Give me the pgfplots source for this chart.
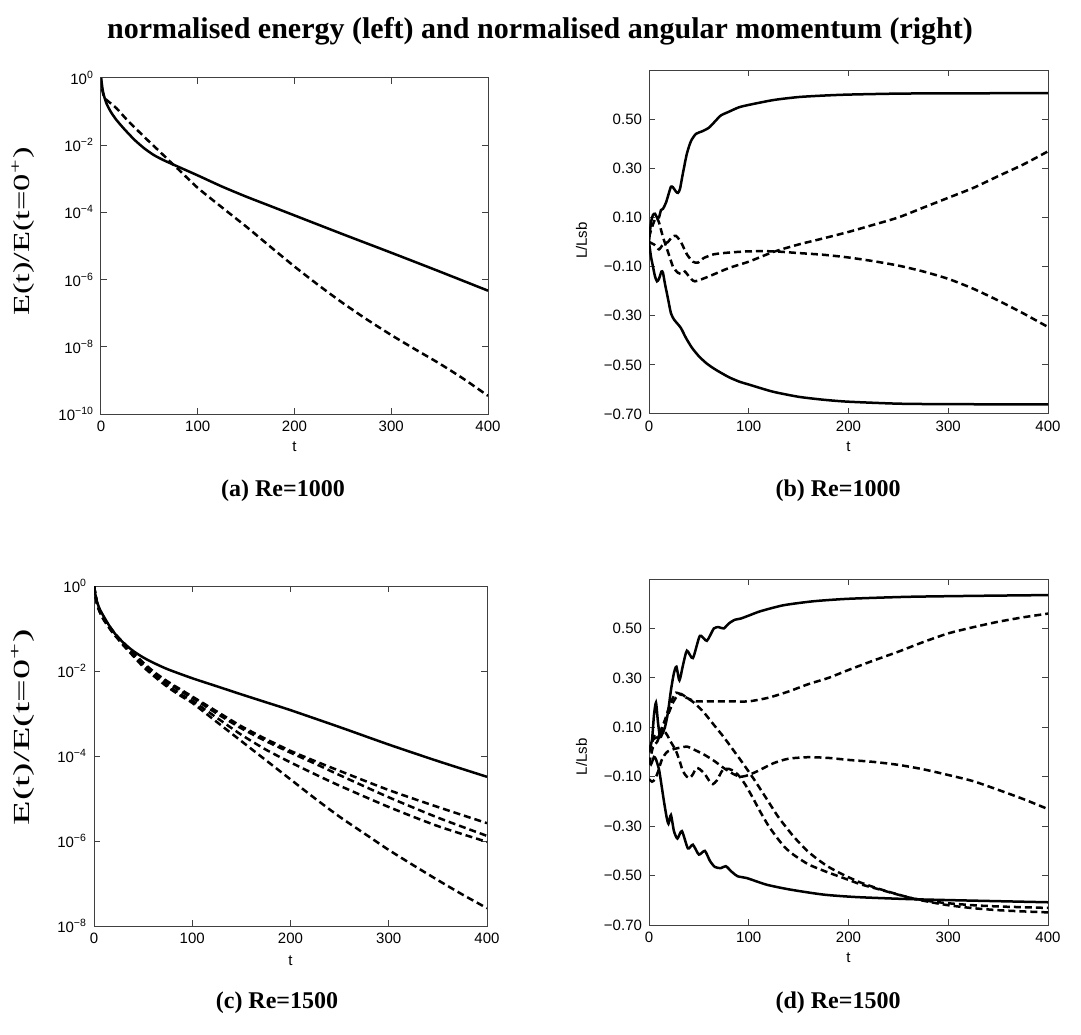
\documentclass[border=0pt]{standalone}
\usepackage{fontspec}
\setmainfont{Liberation Serif}
\setsansfont{Liberation Sans}
\usepackage{graphicx}
\usepackage{pgfplots}
\pgfplotsset{compat=1.18}

\pgfplotsset{
 mystyle/.style={
  scale only axis,
  anchor=south west,
  axis line style={line width=0.5pt, black!75},
  tick style={line width=0.5pt, black!75},
  major tick length=3pt,
  tick label style={font=\sffamily\fontsize{7.5}{8.5}\selectfont},
  label style={font=\sffamily\fontsize{7.5}{9}\selectfont},
  xmin=0, xmax=400,
  xtick={0,100,200,300,400},
  xticklabels={0,100,200,300,400},
 },
 linpanel/.style={
  ymin=-0.7, ymax=0.7,
  ytick={-0.7,-0.5,-0.3,-0.1,0.1,0.3,0.5},
  yticklabels={−0.70,−0.50,−0.30,−0.10,0.10,0.30,0.50},
 },
 solidc/.style={black, line width=1.25pt, smooth, tension=0.4, mark=none},
 dashc/.style={black, line width=1.25pt, dash pattern=on 3.5pt off 2pt, smooth, tension=0.4, mark=none},
}

\begin{document}
\begin{tikzpicture}
\path[use as bounding box] (0,0) rectangle (540.5pt,517pt);

\node[font=\bfseries\fontsize{15}{18}\selectfont] at (270pt,501.5pt) {normalised energy (left) and normalised angular momentum (right)};
\node[font=\bfseries\fontsize{12}{14}\selectfont] at (141.5pt,271.5pt) {(a) Re=1000};
\node[font=\bfseries\fontsize{12}{14}\selectfont] at (419pt,271.5pt) {(b) Re=1000};
\node[font=\bfseries\fontsize{12}{14}\selectfont] at (138.5pt,15.5pt) {(c) Re=1500};
\node[font=\bfseries\fontsize{12}{14}\selectfont] at (419pt,15.5pt) {(d) Re=1500};

% (a)
\begin{axis}[mystyle, at={(50.5pt,310pt)}, width=193.5pt, height=168pt,
  ymode=log, ymin=1e-10, ymax=1, yminorticks=false,
  ytick={1e-10,1e-8,1e-6,1e-4,1e-2,1},
  yticklabels={10\textsuperscript{−10},10\textsuperscript{−8},10\textsuperscript{−6},10\textsuperscript{−4},10\textsuperscript{−2},10\textsuperscript{0}},
  xlabel={t}, xlabel style={at={(axis description cs:0.5,-0.097)},anchor=center},
  ylabel={\rmfamily\scalebox{1.5}[1]{\fontsize{11.5}{12}\selectfont E(t)/E(t=0\textsuperscript{+})}},
  ylabel style={at={(axis description cs:-0.2016,0.543)},anchor=center},
]
\addplot[solidc] coordinates {
(0,1) (1,0.631) (2,0.398) (4,0.240) (6,0.166) (10,0.1) (16,0.0562) (25,0.0282)
(35,0.0141) (45,0.00794) (55,0.00501) (65,0.00355) (75,0.00263) (100,1.26e-3)
(125,5.89e-4) (150,2.95e-4) (175,1.55e-4) (200,8.13e-5) (250,2.24e-5)
(300,6.31e-6) (350,1.74e-6) (400,4.68e-7)};
\addplot[dashc] coordinates {
(0,1) (1,0.501) (3,0.282) (6,0.219) (16,0.126) (27,0.0562) (40,0.0240) (50,0.0126)
(60,0.00676) (70,0.00355) (80,0.00191) (100,5.37e-4) (125,1.41e-4) (150,3.80e-5)
(175,9.55e-6) (200,2.45e-6) (225,6.76e-7) (250,2.0e-7) (275,6.46e-8) (300,2.24e-8)
(325,8.32e-9) (350,3.16e-9) (375,1.10e-9) (400,3.47e-10)};
\end{axis}

% (b)
\begin{axis}[mystyle, linpanel, at={(324.5pt,310pt)}, width=199.5pt, height=172pt,
  xlabel={t}, xlabel style={at={(axis description cs:0.5,-0.095)},anchor=center},
  ylabel={L/Lsb}, ylabel style={at={(axis description cs:-0.169,0.504)},anchor=center},
]
\addplot[solidc] coordinates {
(0,0.0) (2,0.08) (4,0.11) (6,0.115) (8,0.10) (10,0.10) (12,0.13) (14,0.135) (17,0.16)
(20,0.2) (22,0.225) (24,0.223) (27,0.205) (29,0.2) (31,0.215) (34,0.28) (38,0.36)
(42,0.41) (47,0.44) (53,0.45) (60,0.465) (66,0.49) (72,0.515) (80,0.53) (90,0.548)
(100,0.558) (125,0.578) (150,0.59) (175,0.596) (200,0.6) (250,0.604) (300,0.605) (400,0.606)};
\addplot[solidc] coordinates {
(0,0.0) (2,-0.06) (4,-0.1) (6,-0.14) (8,-0.16) (10,-0.15) (12.5,-0.12) (14,-0.125)
(16,-0.17) (19,-0.23) (22,-0.29) (25,-0.315) (28,-0.33) (32,-0.35) (37,-0.39) (43,-0.43)
(50,-0.465) (58,-0.495) (67,-0.52) (80,-0.55) (91,-0.569) (100,-0.58) (124,-0.609)
(150,-0.63) (175,-0.642) (200,-0.65) (250,-0.658) (300,-0.66) (400,-0.661)};
\addplot[dashc] coordinates {
(0,0.02) (3,0.06) (7,0.1) (10,0.08) (14,0.02) (19,-0.04) (24,-0.1) (29,-0.125)
(33,-0.13) (36,-0.12) (40,-0.14) (46,-0.16) (60,-0.14) (80,-0.106) (100,-0.08)
(125,-0.04) (150,-0.01) (175,0.015) (200,0.041) (225,0.07) (250,0.10) (275,0.14)
(300,0.18) (325,0.22) (350,0.268) (375,0.315) (400,0.369)};
\addplot[dashc] coordinates {
(0,0.0) (5,-0.01) (10,-0.03) (14,-0.01) (19,0.0) (23,0.02) (27,0.025) (32,0.0)
(38,-0.05) (44,-0.08) (49,-0.084) (55,-0.065) (65,-0.05) (80,-0.043) (100,-0.038)
(125,-0.038) (150,-0.045) (175,-0.052) (200,-0.063) (225,-0.078) (250,-0.096)
(275,-0.12) (300,-0.15) (325,-0.19) (350,-0.238) (375,-0.29) (400,-0.346)};
\end{axis}

% (c)
\begin{axis}[mystyle, at={(47pt,54pt)}, width=196.5pt, height=170pt,
  ymode=log, ymin=1e-8, ymax=1, yminorticks=false,
  ytick={1e-8,1e-6,1e-4,1e-2,1},
  yticklabels={10\textsuperscript{−8},10\textsuperscript{−6},10\textsuperscript{−4},10\textsuperscript{−2},10\textsuperscript{0}},
  xlabel={t}, xlabel style={at={(axis description cs:0.5,-0.103)},anchor=center},
  ylabel={\rmfamily\scalebox{1.75}[1]{\fontsize{11.5}{12}\selectfont E(t)/E(t=0\textsuperscript{+})}},
  ylabel style={at={(axis description cs:-0.181,0.585)},anchor=center},
]
\addplot[solidc] coordinates {
(0,1) (1,0.708) (3,0.427) (6,0.282) (10,0.191) (16,0.112) (23,0.0676) (32,0.0417)
(40,0.0295) (50,0.0209) (60,0.0158) (75,0.0110) (100,6.76e-3) (125,4.37e-3)
(150,2.82e-3) (175,1.84e-3) (200,1.20e-3) (250,4.79e-4) (300,1.86e-4) (350,7.59e-5) (400,3.24e-5)};
\addplot[dashc] coordinates {
(0,1) (3,0.398) (6,0.251) (10,0.166) (20,0.0794) (30,0.0468) (40,0.0269) (50,0.0158)
(60,0.01) (70,6.76e-3) (80,4.79e-3) (90,3.47e-3) (100,2.51e-3) (125,1.12e-3)
(150,5.01e-4) (175,2.51e-4) (200,1.32e-4) (225,7.59e-5) (250,4.47e-5) (300,1.58e-5)
(350,6.31e-6) (400,2.63e-6)};
\addplot[dashc] coordinates {
(0,1) (3,0.380) (6,0.240) (10,0.158) (20,0.0741) (30,0.0427) (40,0.0251) (50,0.0148)
(60,9.33e-3) (70,6.31e-3) (80,4.47e-3) (90,3.16e-3) (100,2.34e-3) (125,1.0e-3)
(150,4.47e-4) (175,2.24e-4) (200,1.20e-4) (225,6.61e-5) (250,3.55e-5) (300,1.07e-5)
(350,3.55e-6) (400,1.32e-6)};
\addplot[dashc] coordinates {
(0,1) (3,0.417) (6,0.263) (10,0.174) (20,0.0832) (30,0.0437) (40,0.0240) (50,0.0138)
(60,8.51e-3) (70,5.62e-3) (80,3.80e-3) (90,2.69e-3) (100,2.0e-3) (125,7.94e-4)
(150,3.16e-4) (175,1.41e-4) (200,7.08e-5) (225,3.72e-5) (250,2.0e-5) (300,6.31e-6)
(350,2.24e-6) (400,9.55e-7)};
\addplot[dashc] coordinates {
(0,1) (3,0.389) (6,0.245) (10,0.162) (20,0.0759) (30,0.0398) (40,0.0224) (50,0.0126)
(60,7.94e-3) (70,5.13e-3) (80,3.47e-3) (90,2.45e-3) (100,1.78e-3) (125,6.31e-4)
(150,2.24e-4) (175,7.94e-5) (200,2.82e-5) (225,1.0e-5) (250,3.72e-6) (275,1.51e-6)
(300,6.17e-7) (325,2.69e-7) (350,1.20e-7) (375,5.50e-8) (400,2.63e-8)};
\end{axis}

% (d)
\begin{axis}[mystyle, linpanel, at={(324.5pt,54.5pt)}, width=199.5pt, height=173pt,
  xlabel={t}, xlabel style={at={(axis description cs:0.5,-0.095)},anchor=center},
  ylabel={L/Lsb}, ylabel style={at={(axis description cs:-0.169,0.486)},anchor=center},
]
\addplot[solidc] coordinates {
(0,0.0) (3,0.05) (5,0.15) (7,0.2) (9,0.12) (11,0.06) (13,0.07) (16,0.1) (19,0.16)
(22,0.25) (25,0.32) (27.5,0.345) (30.5,0.29) (34,0.35) (38,0.41) (44,0.38) (51,0.47)
(58,0.45) (65,0.5) (70,0.505) (75,0.5) (80,0.52) (86,0.535) (92,0.54) (100,0.552)
(112,0.57) (135,0.594) (165,0.61) (200,0.62) (260,0.628) (330,0.632) (400,0.635)};
\addplot[solidc] coordinates {
(0,-0.03) (2,-0.05) (5,-0.02) (7,-0.03) (10,-0.07) (12,-0.12) (15,-0.2) (17.5,-0.26)
(19.5,-0.29) (22,-0.255) (25,-0.32) (28.5,-0.35) (33,-0.32) (39,-0.39) (44,-0.375)
(50,-0.415) (56,-0.40) (61,-0.44) (66,-0.465) (72,-0.47) (77,-0.462) (83,-0.485)
(89,-0.503) (98,-0.51) (118,-0.537) (142,-0.557) (175,-0.577) (208,-0.587)
(259,-0.595) (309,-0.60) (400,-0.608)};
\addplot[dashc] coordinates {
(0,0.0) (4,0.05) (8,0.06) (12,0.09) (16,0.13) (20,0.18) (24,0.22) (27,0.24) (31,0.235)
(35,0.225) (40,0.215) (47,0.205) (60,0.205) (80,0.205) (100,0.205) (120,0.22)
(140,0.245) (160,0.275) (180,0.3) (200,0.332) (225,0.37) (250,0.406) (275,0.445)
(300,0.48) (325,0.505) (350,0.527) (375,0.545) (400,0.56)};
\addplot[dashc] coordinates {
(0,-0.05) (4,0.02) (8,0.04) (12,0.08) (16,0.12) (20,0.16) (24,0.2) (28,0.225) (32,0.235)
(36,0.225) (45,0.2) (55,0.16) (65,0.11) (75,0.06) (85,0.005) (94,-0.045) (106,-0.115)
(118,-0.19) (130,-0.265) (145,-0.342) (160,-0.405) (178,-0.46) (195,-0.497)
(212,-0.528) (230,-0.553) (245,-0.571) (262,-0.59) (279,-0.605) (300,-0.62)
(325,-0.632) (350,-0.64) (375,-0.645) (400,-0.649)};
\addplot[dashc] coordinates {
(0,0.0) (3,0.04) (6,0.07) (9,0.06) (12,0.08) (15,0.085) (18,0.07) (22,0.04) (27,0.005)
(31,-0.04) (34,-0.078) (38,-0.1) (41,-0.105) (44,-0.09) (47.5,-0.065) (51,-0.07)
(56,-0.09) (61,-0.12) (64,-0.13) (68,-0.115) (74,-0.072) (80,-0.068) (86,-0.08)
(91,-0.1) (97,-0.135) (104,-0.185) (112,-0.245) (120,-0.3) (128,-0.345) (136,-0.385)
(145,-0.416) (160,-0.455) (178,-0.485) (195,-0.51) (212,-0.535) (230,-0.555)
(245,-0.572) (262,-0.59) (280,-0.603) (300,-0.612) (325,-0.62) (350,-0.625)
(375,-0.628) (400,-0.631)};
\addplot[dashc] coordinates {
(0,-0.11) (3,-0.12) (6,-0.11) (9,-0.08) (13,-0.03) (18,0.0) (25,0.012) (32,0.018)
(38,0.022) (45,0.01) (55,-0.01) (65,-0.035) (75,-0.065) (85,-0.09) (92,-0.10)
(100,-0.093) (110,-0.075) (125,-0.045) (140,-0.027) (160,-0.021) (180,-0.024)
(200,-0.032) (225,-0.04) (250,-0.052) (275,-0.07) (300,-0.093) (325,-0.118)
(350,-0.153) (375,-0.19) (400,-0.231)};
\end{axis}
\end{tikzpicture}
\end{document}
